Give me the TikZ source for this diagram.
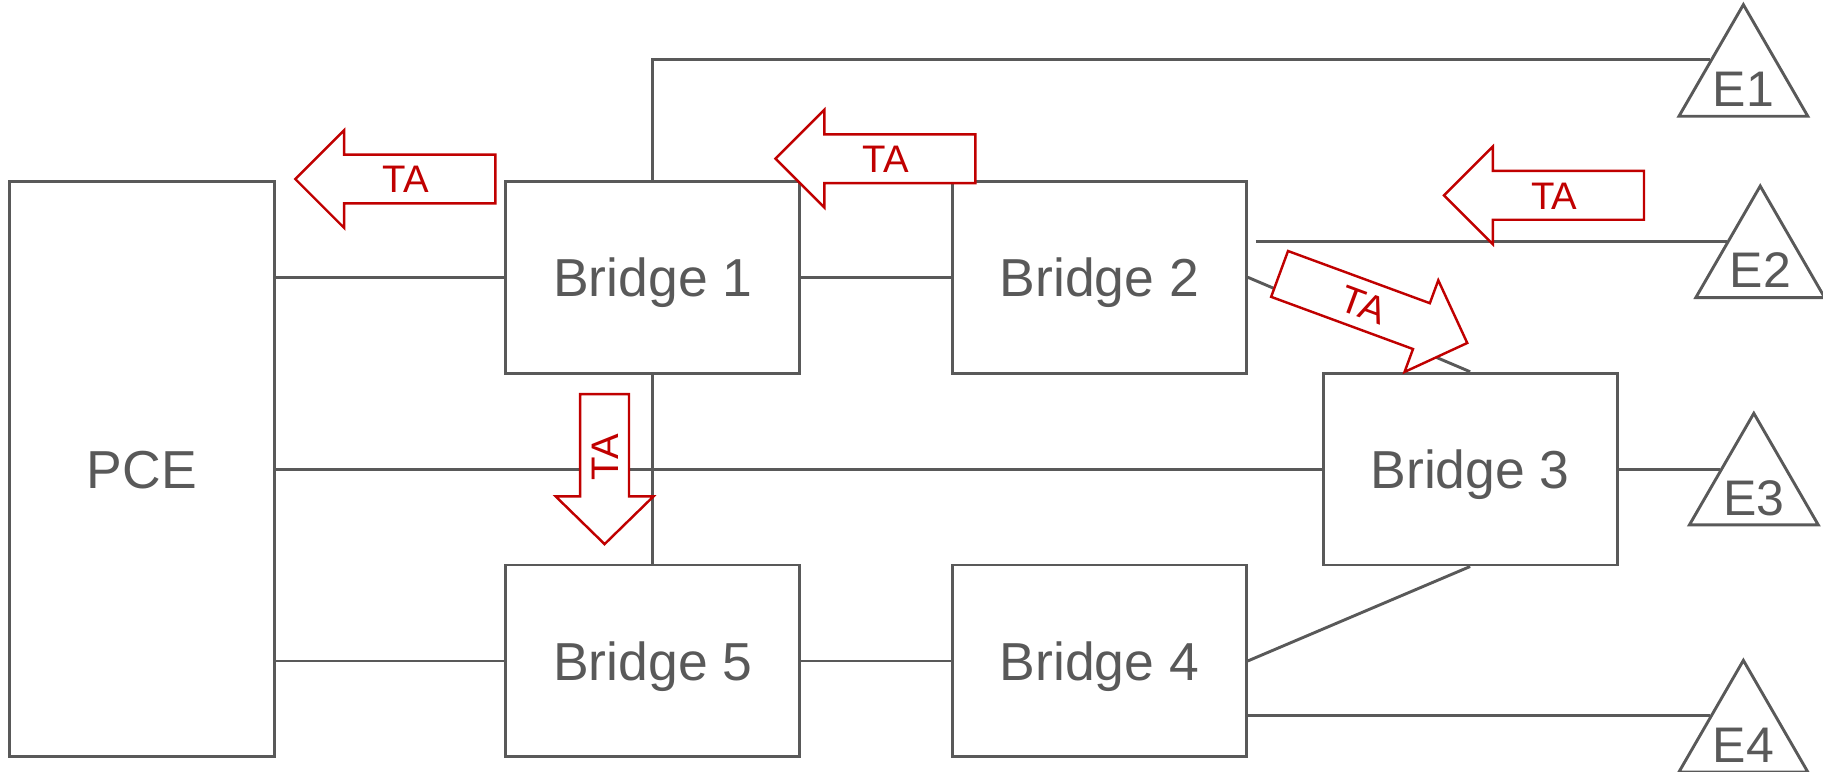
\documentclass[tikz,border=0pt]{standalone}
\usepackage{fontspec}
\setmainfont{Liberation Sans}
\usetikzlibrary{shapes.geometric}
\definecolor{lgray}{HTML}{595959}
\definecolor{tared}{HTML}{C00000}
\begin{document}
\begin{tikzpicture}[x=0.5pt,y=-0.5pt,
  box/.style={draw=lgray,line width=1.25pt,minimum width=126.5pt,minimum height=82.5pt,inner sep=0pt,text=lgray,font=\fontsize{23}{27}\selectfont,text height=16.5pt,text depth=0pt},
  link/.style={draw=lgray,line width=1.25pt},
  tri/.style={regular polygon,regular polygon sides=3,draw=lgray,line width=1.25pt,minimum size=64pt,inner sep=0pt},
  elabel/.style={text=lgray,font=\fontsize{21.5}{25}\selectfont,text height=15.4pt,text depth=0pt,inner sep=0pt},
  taarrow/.style={draw=tared,fill=white,line width=1.05pt,line join=miter},
  talabel/.style={text=tared,font=\fontsize{16.5}{19}\selectfont,text height=11.8pt,text depth=0pt,inner sep=0pt}
]
\useasboundingbox (0,0) rectangle (1568,664);

% boxes
\node[box,minimum width=114pt,minimum height=247.5pt] (PCE) at (122,403.5) {PCE};
\node[box] (B1) at (561.5,238.5) {Bridge 1};
\node[box] (B2) at (945.5,238.5) {Bridge 2};
\node[box] (B3) at (1264.5,403.5) {Bridge 3};
\node[box] (B5) at (561.5,568.5) {Bridge 5};
\node[box] (B4) at (945.5,568.5) {Bridge 4};

% end nodes
\node[tri] (E1) at (1499.5,68) {};
\node[tri] (E2) at (1514,224) {};
\node[tri] (E3) at (1508.5,419.5) {};
\node[tri] (E4) at (1499.5,632) {};
\node[elabel] (E1t) at ([yshift=-4.15pt]E1.center) {E1};
\node[elabel] (E2t) at ([yshift=-4.15pt]E2.center) {E2};
\node[elabel] (E3t) at ([yshift=-4.15pt]E3.center) {E3};
\node[elabel] (E4t) at ([yshift=-4.15pt]E4.center) {E4};

% links
\draw[link] (B1.west -| PCE.east) -- (B1.west);
\draw[link] (B3.west -| PCE.east) -- (B3.west);
\draw[link] (B5.west -| PCE.east) -- (B5.west);
\draw[link] (B1.east) -- (B2.west);
\draw[link] (B5.east) -- (B4.west);
\draw[link] (B1.south) -- (B5.north);
\draw[link] (B1.north) |- (E1.side 1);
\path ([xshift=3.5pt]B2.east) coordinate (b2x);
\draw[link] (b2x |- E2.side 1) -- (E2.side 1);
\draw[link] (B2.east) -- (B3.north);
\draw[link] (B4.east) -- (B3.south);
\draw[link] (B3.east) -- (B3.east -| E3.side 1);
\draw[link] (B4.east |- E4.side 1) -- (E4.side 1);

% TA arrows
\begin{scope}[shift={(254,154)}]
  \path[taarrow] (0,0) -- (42,-42) -- (42,-21) -- (172,-21) -- (172,21) -- (42,21) -- (42,42) -- cycle;
  \node[talabel] (ta1) at (95,0) {TA};
\end{scope}
\begin{scope}[shift={(667,136.5)}]
  \path[taarrow] (0,0) -- (42,-42) -- (42,-21) -- (172,-21) -- (172,21) -- (42,21) -- (42,42) -- cycle;
  \node[talabel] (ta2) at (95,0) {TA};
\end{scope}
\begin{scope}[shift={(1242,168)}]
  \path[taarrow] (0,0) -- (42,-42) -- (42,-21) -- (172,-21) -- (172,21) -- (42,21) -- (42,42) -- cycle;
  \node[talabel] (ta3) at (95,0) {TA};
\end{scope}
\begin{scope}[shift={(520,468)},rotate=90]
  \path[taarrow] (0,0) -- (41,-42) -- (41,-21) -- (129,-21) -- (129,21) -- (41,21) -- (41,42) -- cycle;
  \node[talabel,rotate=90] (ta4) at (75,0) {TA};
\end{scope}
\begin{scope}[shift={(1262,295)},rotate=159.8]
  \path[taarrow] (0,0) -- (42,-42) -- (42,-21) -- (172,-21) -- (172,21) -- (42,21) -- (42,42) -- cycle;
  \node[talabel,rotate=-20.2] (ta5) at (95,0) {TA};
\end{scope}
\end{tikzpicture}
\end{document}
